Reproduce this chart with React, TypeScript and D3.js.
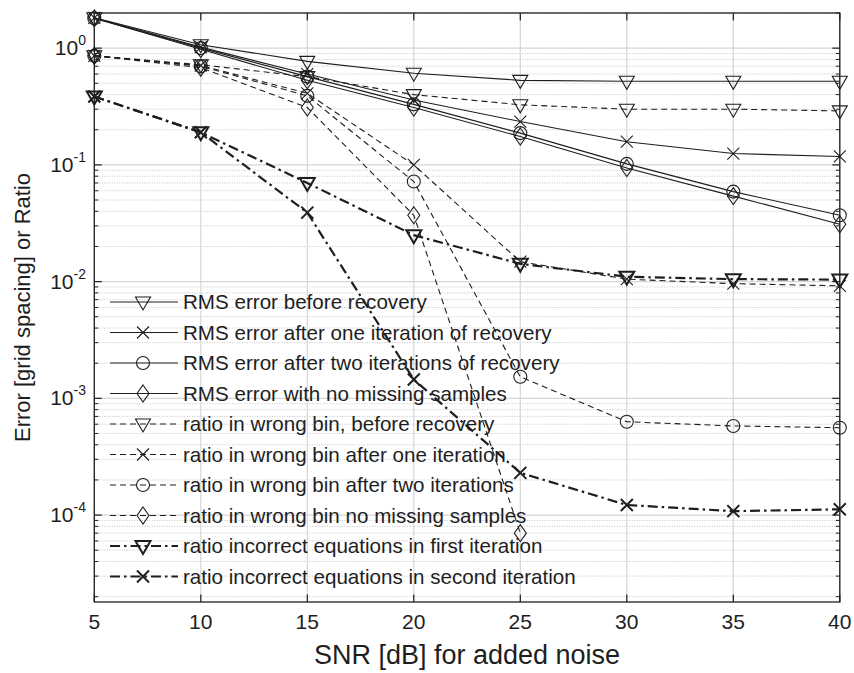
import React from 'react'
import * as d3 from 'd3'

// values
const snr = [5, 10, 15, 20, 25, 30, 35, 40]
const rmsBefore = [1.82, 1.07, 0.77, 0.61, 0.53, 0.52, 0.52, 0.52]
const rmsOne = [1.82, 1.02, 0.6, 0.36, 0.235, 0.158, 0.125, 0.118]
const rmsTwo = [1.8, 1.0, 0.57, 0.33, 0.187, 0.102, 0.059, 0.037]
const rmsNoMissing = [1.8, 0.98, 0.53, 0.31, 0.175, 0.094, 0.054, 0.031]
const binBefore = [0.86, 0.72, 0.57, 0.4, 0.327, 0.3, 0.3, 0.29]
const binOne = [0.86, 0.71, 0.41, 0.1, 0.0148, 0.0105, 0.0096, 0.0092]
const binTwo = [0.86, 0.7, 0.39, 0.072, 0.00153, 0.00063, 0.00058, 0.00056]
const binNoMissing = [0.86, 0.68, 0.31, 0.037, 0.00007]
const eqFirst = [0.385, 0.19, 0.07, 0.025, 0.0142, 0.011, 0.0105, 0.0104]
const eqSecond = [0.385, 0.19, 0.039, 0.00145, 0.00023, 0.000122, 0.000108, 0.000112]

const xTicks = [5, 10, 15, 20, 25, 30, 35, 40]
const yDecades = [0, -1, -2, -3, -4]

type Style = 'solid' | 'dash' | 'dashdot'
type Marker = 'tri' | 'x' | 'circle' | 'diamond'

const series: { label: string; values: number[]; style: Style; marker: Marker }[] = [
  { label: 'RMS error before recovery', values: rmsBefore, style: 'solid', marker: 'tri' },
  { label: 'RMS error after one iteration of recovery', values: rmsOne, style: 'solid', marker: 'x' },
  { label: 'RMS error after two iterations of recovery', values: rmsTwo, style: 'solid', marker: 'circle' },
  { label: 'RMS error with no missing samples', values: rmsNoMissing, style: 'solid', marker: 'diamond' },
  { label: 'ratio in wrong bin, before recovery', values: binBefore, style: 'dash', marker: 'tri' },
  { label: 'ratio in wrong bin after one iteration', values: binOne, style: 'dash', marker: 'x' },
  { label: 'ratio in wrong bin after two iterations', values: binTwo, style: 'dash', marker: 'circle' },
  { label: 'ratio in wrong bin no missing samples', values: binNoMissing, style: 'dash', marker: 'diamond' },
  { label: 'ratio incorrect equations in first iteration', values: eqFirst, style: 'dashdot', marker: 'tri' },
  { label: 'ratio incorrect equations in second iteration', values: eqSecond, style: 'dashdot', marker: 'x' },
]

const W = 854
const H = 673
const left = 94.3
const right = 839.8
const top = 13
const bottom = 602
const ink = '#1e1e1e'
const font = '"Liberation Sans", Arial, Helvetica, sans-serif'

const x = d3.scaleLinear().domain([5, 40]).range([left, right])
const y = d3.scaleLog().domain([1.8e-5, 2]).range([bottom, top])

const dashOf = (s: Style) => (s === 'dash' ? '6,4' : s === 'dashdot' ? '10,4,2.5,4' : undefined)
const widthOf = (s: Style) => (s === 'dashdot' ? 2.2 : 1.1)

function markerPath(m: Marker) {
  if (m === 'tri') return 'M-7.5,-5L7.5,-5L0,8Z'
  if (m === 'x') return 'M-6,-6L6,6M-6,6L6,-6'
  if (m === 'diamond') return 'M0,-8.5L6,0L0,8.5L-6,0Z'
  return d3.arc()({ innerRadius: 0, outerRadius: 6.5, startAngle: 0, endAngle: 2 * Math.PI }) as string
}

export default function App() {
  const line = d3
    .line<number>()
    .x((_, i) => x(snr[i]))
    .y((v) => y(v))

  const minor: number[] = []
  for (let e = -5; e <= 0; e++) {
    for (let k = 2; k <= 9; k++) {
      const v = k * Math.pow(10, e)
      if (v >= 1.8e-5 && v <= 2) minor.push(v)
    }
  }

  return (
    <svg width={W} height={H} style={{ position: 'absolute', left: 0, top: 0, background: '#fff' }} fontFamily={font}>
      <rect width={W} height={H} fill="#fff" />
      {/* grid */}
      {minor.map((v) => (
        <line key={'mg' + v} x1={left} x2={right} y1={y(v)} y2={y(v)} stroke="#c4c4c4" strokeWidth={1} strokeDasharray="1,1.5" />
      ))}
      {yDecades.map((e) => (
        <line key={'gy' + e} x1={left} x2={right} y1={y(Math.pow(10, e))} y2={y(Math.pow(10, e))} stroke="#d6d6d6" strokeWidth={1.2} />
      ))}
      {xTicks.map((t) => (
        <line key={'gx' + t} x1={x(t)} x2={x(t)} y1={top} y2={bottom} stroke="#d6d6d6" strokeWidth={1.2} />
      ))}
      {/* axis box and ticks */}
      <rect x={left} y={top} width={right - left} height={bottom - top} fill="none" stroke={ink} strokeWidth={1.3} />
      {xTicks.map((t) => (
        <g key={'tx' + t} stroke={ink} strokeWidth={1.2}>
          <line x1={x(t)} x2={x(t)} y1={bottom} y2={bottom - 7.5} />
          <line x1={x(t)} x2={x(t)} y1={top} y2={top + 7.5} />
        </g>
      ))}
      {yDecades.map((e) => (
        <g key={'ty' + e} stroke={ink} strokeWidth={1.2}>
          <line x1={left} x2={left + 7.5} y1={y(Math.pow(10, e))} y2={y(Math.pow(10, e))} />
          <line x1={right} x2={right - 7.5} y1={y(Math.pow(10, e))} y2={y(Math.pow(10, e))} />
        </g>
      ))}
      {minor.map((v) => (
        <g key={'tm' + v} stroke={ink} strokeWidth={1}>
          <line x1={left} x2={left + 4} y1={y(v)} y2={y(v)} />
          <line x1={right} x2={right - 4} y1={y(v)} y2={y(v)} />
        </g>
      ))}
      {/* tick labels */}
      {xTicks.map((t) => (
        <text key={'lx' + t} x={x(t)} y={629} textAnchor="middle" fontSize={21} fill={ink}>
          {t}
        </text>
      ))}
      {yDecades.map((e) => (
        <text key={'ly' + e} x={86} y={y(Math.pow(10, e)) + 7} textAnchor="end" fontSize={21} fill={ink}>
          <tspan>10</tspan>
          <tspan dy={-10} fontSize={14}>
            {e === 0 ? '0' : '-' + Math.abs(e)}
          </tspan>
        </text>
      ))}
      {/* axis titles */}
      <text x={(left + right) / 2} y={664} textAnchor="middle" fontSize={27} fill={ink}>
        SNR [dB] for added noise
      </text>
      <text transform={`translate(30,${(top + bottom) / 2}) rotate(-90)`} textAnchor="middle" fontSize={22} fill={ink}>
        Error [grid spacing] or Ratio
      </text>
      {/* series */}
      {series.map((s) => (
        <g key={s.label}>
          <path d={line(s.values) as string} fill="none" stroke={ink} strokeWidth={widthOf(s.style)} strokeDasharray={dashOf(s.style)} />
          {s.values.map((v, i) => (
            <path
              key={i}
              d={markerPath(s.marker)}
              transform={`translate(${x(snr[i])},${y(v)})`}
              fill="none"
              stroke={ink}
              strokeWidth={s.style === 'dashdot' ? 2 : 1.1}
            />
          ))}
        </g>
      ))}
      {/* legend */}
      {series.map((s, i) => {
        const ly = 302 + i * 30.5
        return (
          <g key={'lg' + i}>
            <line x1={110} x2={178} y1={ly} y2={ly} stroke={ink} strokeWidth={widthOf(s.style)} strokeDasharray={dashOf(s.style)} />
            <path d={markerPath(s.marker)} transform={`translate(143,${ly})`} fill="none" stroke={ink} strokeWidth={s.style === 'dashdot' ? 2 : 1.1} />
            <text x={183} y={ly + 7} fontSize={20.6} fill={ink}>
              {s.label}
            </text>
          </g>
        )
      })}
    </svg>
  )
}
